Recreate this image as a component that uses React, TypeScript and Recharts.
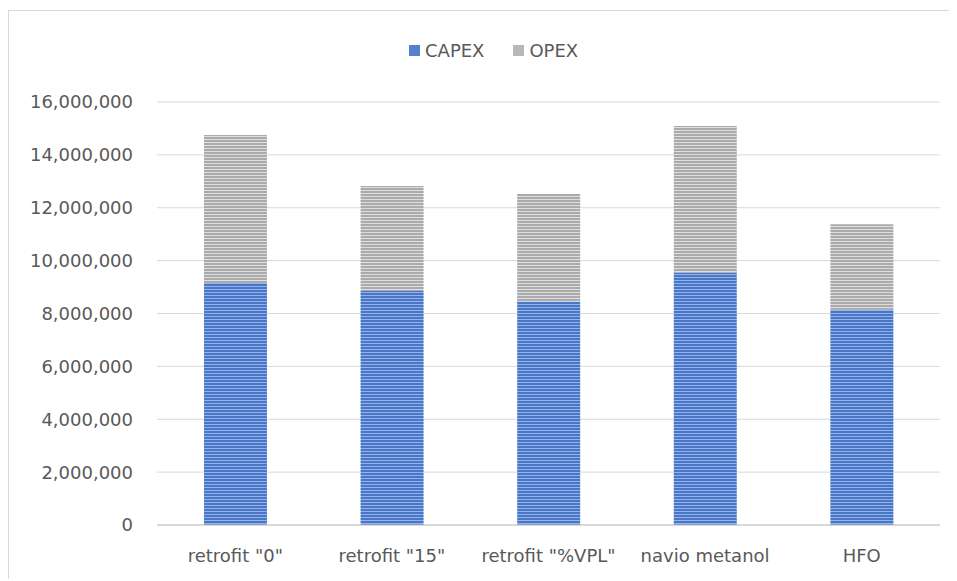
import React from 'react';
import { BarChart, Bar, XAxis, YAxis, CartesianGrid, Legend } from 'recharts';

const categories = ['retrofit "0"', 'retrofit "15"', 'retrofit "%VPL"', 'navio metanol', 'HFO'];
const capex = [9150000, 8850000, 8450000, 9550000, 8150000];
const opex = [5600000, 3970000, 4070000, 5540000, 3230000];
const yTicks = [0, 2000000, 4000000, 6000000, 8000000, 10000000, 12000000, 14000000, 16000000];

const data = categories.map((name, i) => ({ name, CAPEX: capex[i], OPEX: opex[i] }));

const FONT = '"DejaVu Sans", sans-serif';
const TEXT = '#595959';

const LegendContent = () => (
  <div style={{ display: 'flex', alignItems: 'center', fontFamily: FONT, fontSize: 18, color: TEXT, whiteSpace: 'nowrap' }}>
    <span style={{ width: 11, height: 11, background: '#5580d0', marginRight: 5 }} />
    <span>CAPEX</span>
    <span style={{ width: 11, height: 11, background: '#b8b8b8', marginLeft: 29, marginRight: 5 }} />
    <span>OPEX</span>
  </div>
);

const App: React.FC = () => {
  return (
    <div style={{ marginTop: 2, width: 948, height: 568, borderTop: '1px solid #d9d9d9', borderLeft: '1px solid #d9d9d9' }}>
      <BarChart
        width={948}
        height={568}
        data={data}
        margin={{ top: 91, right: 17, bottom: 24, left: 0 }}
        barCategoryGap="30%"
      >
        <defs>
          <pattern id="capexStripes" patternUnits="userSpaceOnUse" width={10} height={3}>
            <rect x={0} y={0} width={10} height={3} fill="#4a76c8" />
            <rect x={0} y={2} width={10} height={1} fill="#93b3ea" />
          </pattern>
          <pattern id="opexStripes" patternUnits="userSpaceOnUse" width={10} height={3}>
            <rect x={0} y={0} width={10} height={3} fill="#ababab" />
            <rect x={0} y={2} width={10} height={1} fill="#dedede" />
          </pattern>
        </defs>
        <CartesianGrid vertical={false} stroke="#d9d9d9" />
        <XAxis
          dataKey="name"
          interval={0}
          tickLine={false}
          tickSize={0}
          tickMargin={24}
          height={30}
          axisLine={{ stroke: '#c6c6c6' }}
          tick={{ fill: TEXT, fontSize: 18, fontFamily: FONT }}
        />
        <YAxis
          domain={[0, 16000000]}
          ticks={yTicks}
          width={148}
          axisLine={false}
          tickLine={false}
          tickSize={0}
          tickMargin={24}
          tickFormatter={(v: number) => v.toLocaleString('en-US')}
          tick={{ fill: TEXT, fontSize: 18, fontFamily: FONT }}
        />
        <Legend
          layout="horizontal"
          verticalAlign="middle"
          align="center"
          content={<LegendContent />}
          wrapperStyle={{ left: 400, top: 29, width: 'auto' }}
        />
        <Bar dataKey="CAPEX" stackId="a" fill="url(#capexStripes)" isAnimationActive={false} />
        <Bar dataKey="OPEX" stackId="a" fill="url(#opexStripes)" isAnimationActive={false} />
      </BarChart>
    </div>
  );
};

export default App;
